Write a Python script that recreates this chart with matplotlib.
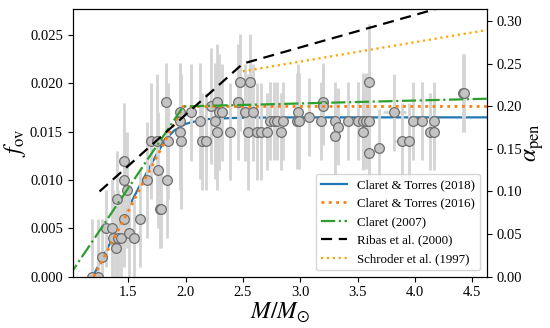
import numpy as np
import matplotlib.pyplot as plt

plt.rcParams['font.family'] = 'Liberation Serif'
plt.rcParams['mathtext.fontset'] = 'stix'

# observed stars: mass, f_ov and their errors
mass = [1.185, 1.24, 1.27, 1.31, 1.36, 1.37, 1.40, 1.395, 1.415, 1.44,
        1.46, 1.465, 1.465, 1.49, 1.51, 1.55, 1.60, 1.66, 1.695, 1.75,
        1.76, 1.78, 1.79, 1.84, 1.85, 1.83, 1.95, 1.95, 1.96, 1.95,
        2.05, 2.13, 2.14, 2.18, 2.22, 2.26, 2.27, 2.27, 2.29, 2.32,
        2.39, 2.46, 2.475, 2.56, 2.52, 2.59, 2.54, 2.62, 2.66, 2.71,
        2.74, 2.77, 2.80, 2.83, 2.85, 2.98, 2.97, 2.99, 3.08, 3.18,
        3.20, 3.20, 3.30, 3.325, 3.30, 3.42, 3.50, 3.55, 3.57, 3.55,
        3.60, 3.60, 3.60, 3.69, 3.82, 3.89, 3.945, 3.98, 4.06, 4.135,
        4.165, 4.165, 4.42, 4.43]
fov = [0.0, 0.0, 0.0020, 0.0050, 0.0050, 0.0040, 0.0080, 0.0030, 0.0040, 0.0040,
       0.0060, 0.0120, 0.0100, 0.0090, 0.0045, 0.0040, 0.0060, 0.0100, 0.0140, 0.0140,
       0.0110, 0.0070, 0.0070, 0.0100, 0.0140, 0.0181, 0.0161, 0.0150, 0.0140, 0.0170,
       0.0170, 0.0161, 0.0140, 0.0140, 0.0176, 0.0161, 0.0150, 0.0181, 0.0170, 0.0170,
       0.0150, 0.0181, 0.0201, 0.0201, 0.0170, 0.0170, 0.0150, 0.0150, 0.0150, 0.0150,
       0.0161, 0.0161, 0.0161, 0.0150, 0.0161, 0.0170, 0.0161, 0.0161, 0.0165, 0.0161,
       0.0181, 0.0176, 0.0161, 0.0155, 0.0145, 0.0161, 0.0161, 0.0161, 0.0161, 0.0150,
       0.0161, 0.0201, 0.0128, 0.0133, 0.0170, 0.0140, 0.0140, 0.0161, 0.0161, 0.0150,
       0.0150, 0.0161, 0.0190, 0.0190]
fov_err = [0.006, 0.006, 0.004, 0.004, 0.005, 0.005, 0.005, 0.004, 0.005, 0.004,
           0.005, 0.006, 0.005, 0.006, 0.005, 0.004, 0.005, 0.006, 0.006, 0.007,
           0.006, 0.004, 0.004, 0.006, 0.006, 0.004, 0.006, 0.006, 0.007, 0.005,
           0.005, 0.006, 0.005, 0.005, 0.006, 0.006, 0.006, 0.006, 0.006, 0.005,
           0.005, 0.006, 0.005, 0.005, 0.005, 0.005, 0.006, 0.005, 0.005, 0.004,
           0.004, 0.004, 0.004, 0.004, 0.004, 0.005, 0.005, 0.005, 0.004, 0.004,
           0.004, 0.004, 0.004, 0.004, 0.004, 0.004, 0.004, 0.005, 0.005, 0.004,
           0.005, 0.006, 0.004, 0.004, 0.004, 0.004, 0.004, 0.004, 0.004, 0.004,
           0.004, 0.004, 0.004, 0.004]
mass_err = [0.02] * 74 + [0.10, 0.08] + [0.02] * 8

# calibrations
ct18_m = [1.19, 1.3, 1.4, 1.5, 1.6, 1.7, 1.75, 1.8, 1.85, 1.9, 2.0, 2.1, 2.2, 2.4, 2.6, 3.0, 4.63]
ct18_f = [0.0, 0.0025, 0.0048, 0.0071, 0.0094, 0.0116, 0.0127, 0.0137, 0.0145, 0.0151,
          0.0158, 0.0161, 0.0163, 0.0164, 0.01645, 0.01647, 0.01647]
ct16_m = [1.2, 1.98, 4.63]
ct16_f = [0.0, 0.0176, 0.0176]
c07_m = [0.98, 1.98, 4.63]
c07_f = [0.0, 0.0176, 0.0184]
ribas_m = [1.25, 2.5, 4.6]
ribas_a = [0.10, 0.25, 0.33]
schr_m = [2.5, 4.63]
schr_a = [0.241, 0.2895]

fig = plt.figure(figsize=(5.5, 3.28), dpi=100)
ax = fig.add_axes([0.132, 0.1564, 0.753, 0.817])
ax.errorbar(mass, fov, yerr=fov_err, xerr=mass_err, fmt='o', ms=7,
            mfc='#c4c4c4', mec='#6e6e6e', mew=0.9,
            ecolor='#d4d4d4', elinewidth=2, capsize=0, zorder=2)
l1, = ax.plot(ct18_m, ct18_f, c='tab:blue', lw=1.6, zorder=1, label='Claret & Torres (2018)')
l2, = ax.plot(ct16_m, ct16_f, c='tab:orange', lw=2, ls=':', zorder=3, label='Claret & Torres (2016)')
l3, = ax.plot(c07_m, c07_f, c='tab:green', lw=1.6, ls='-.', zorder=3, label='Claret (2007)')
ax.set_xlim(1.015, 4.626)
ax.set_ylim(0, 0.0277)
ax.set_yticks(np.arange(0, 0.0251, 0.005))
ax.set_yticklabels(['%.3f' % v for v in np.arange(0, 0.0251, 0.005)])
ax.set_xticks([1.5, 2.0, 2.5, 3.0, 3.5, 4.0, 4.5])
ax.tick_params(labelsize=10.5)
ax.set_xlabel(r'$M/M_{\odot}$', fontsize=17, labelpad=1)
ax.set_ylabel(r'$f_{\rm ov}$', fontsize=17, labelpad=1)

ax2 = ax.twinx()
l4, = ax2.plot(ribas_m, ribas_a, c='k', lw=1.6, ls=(0, (5, 3)), label='Ribas et al. (2000)')
l5, = ax2.plot(schr_m, schr_a, c='orange', lw=1.6, ls=':', label='Schroder et al. (1997)')
ax2.set_ylim(0, 0.3144)
ax2.set_yticks(np.arange(0, 0.301, 0.05))
ax2.set_yticklabels(['%.2f' % v for v in np.arange(0, 0.301, 0.05)])
ax2.tick_params(labelsize=10.5)
ax2.set_ylabel(r'$\alpha_{\rm pen}$', fontsize=17, labelpad=1)

ax2.legend(handles=[l1, l2, l3, l4, l5], loc='lower right', fontsize=9.3)

fig.savefig('out.png')
